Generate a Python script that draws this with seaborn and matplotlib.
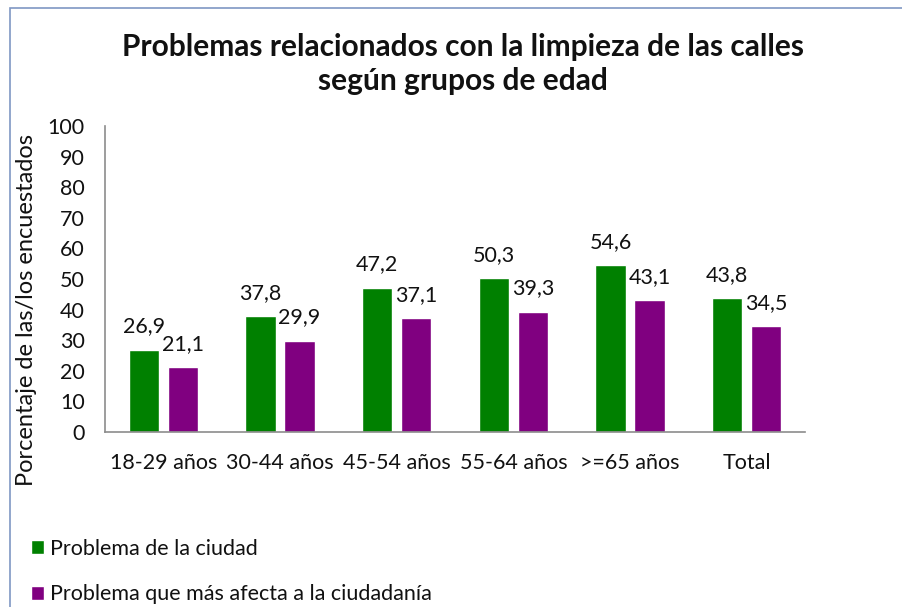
import matplotlib
matplotlib.use("Agg")
import matplotlib.pyplot as plt
import seaborn as sns
import pandas as pd
from matplotlib.patches import Rectangle

categories = ["18-29 años", "30-44 años", "45-54 años", "55-64 años", ">=65 años", "Total"]
series_names = ["Problema de la ciudad", "Problema que más afecta a la ciudadanía"]
ciudad = [26.9, 37.8, 47.2, 50.3, 54.6, 43.8]
afecta = [21.1, 29.9, 37.1, 39.3, 43.1, 34.5]
colors = ["#008000", "#800080"]
yticks = list(range(0, 101, 10))

df = pd.DataFrame({
    "cat": categories * 2,
    "serie": [series_names[0]] * len(categories) + [series_names[1]] * len(categories),
    "valor": ciudad + afecta,
})

sns.set_theme(style="white")
plt.rcParams["font.family"] = ["Lato", "DejaVu Sans"]

FS = 15.5
fig = plt.figure(figsize=(9.02, 6.07), dpi=100)
ax = fig.add_axes([105/902, 1-432/607, 700/902, 306/607])

sns.barplot(data=df, x="cat", y="valor", hue="serie", order=categories,
            hue_order=series_names, palette=colors, width=0.67, gap=0.23,
            saturation=1, ax=ax, legend=True)

for cont in ax.containers:
    labels = [f"{v:.1f}".replace(".", ",") for v in cont.datavalues]
    ax.bar_label(cont, labels=labels, padding=9.5, fontsize=FS, color="#111111")

ax.set_ylim(0, 100)
ax.set_yticks(yticks)
ax.set_xlim(-0.5, len(categories) - 0.5)
ax.tick_params(axis="both", length=0, labelsize=FS, colors="#111111")
ax.tick_params(axis="x", pad=15)
ax.tick_params(axis="y", pad=14.5)
ax.set_xlabel("")
ax.set_ylabel("Porcentaje de las/los encuestados", fontsize=17, color="#111111")
ax.yaxis.set_label_coords(-0.097, 0.40)
for s in ["top", "right"]:
    ax.spines[s].set_visible(False)
for s in ["left", "bottom"]:
    ax.spines[s].set_color("#8c8c8c")
    ax.spines[s].set_linewidth(1.2)

handles, labels = ax.get_legend_handles_labels()
ax.get_legend().remove()
fig.legend(handles, labels, loc="upper left", bbox_to_anchor=(22/902, 1-530/607),
           frameon=False, fontsize=FS, handlelength=0.6, handleheight=0.6,
           handletextpad=0.3, labelspacing=1.2, borderaxespad=0, labelcolor="#111111")

fig.text(463/902, 1-64/607, "Problemas relacionados con la limpieza de las calles\nsegún grupos de edad",
         ha="center", va="center", fontsize=21.5, fontweight="bold", linespacing=1.25, color="#111111")

fig.patches.append(Rectangle((10/902, -0.1), 1.2, 1 - 8/607 + 0.1, transform=fig.transFigure,
                             fill=False, edgecolor="#7f97c4", linewidth=1.2))

fig.savefig("out.png", dpi=100)
